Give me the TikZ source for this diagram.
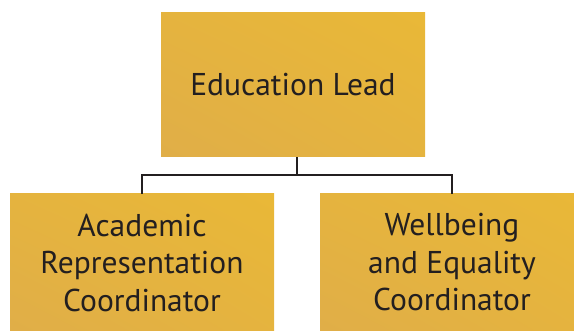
\documentclass[tikz,border=0pt]{standalone}
\usepackage{fontspec}
\setmainfont{PT Sans}
\usetikzlibrary{shadings}
\definecolor{goldA}{HTML}{E9B837}
\definecolor{goldB}{HTML}{E0AE48}
\definecolor{linec}{HTML}{231F20}
\definecolor{txt}{HTML}{231F20}
\tikzset{
  orgbox/.style={rectangle, inner sep=0pt,
    upper right=goldA, lower left=goldB, upper left=goldA!55!goldB, lower right=goldA!55!goldB,
    text=txt, align=center, font=\fontsize{31.5}{37.5}\selectfont},
  link/.style={draw=linec, line width=2.2pt}
}
\begin{document}
\begin{tikzpicture}[x=1pt,y=-1pt]
\clip (0,0) rectangle (574,331);
\node[orgbox, minimum width=264pt, minimum height=144pt] (top) at (293,85) {\raisebox{-2pt}{Education Lead}};
\node[orgbox, minimum width=264pt, minimum height=137pt] (left) at (142,262.5) {Academic\\Representation\\Coordinator};
\node[orgbox, minimum width=264pt, minimum height=137pt] (right) at (452,262.5) {Wellbeing\\and Equality\\Coordinator};
\coordinate (j) at ([xshift=4pt,yshift=-18pt]top.south);
\draw[link] ([xshift=4pt]top.south) -- (j);
\draw[link] (j) -| (left.north);
\draw[link] (j) -| (right.north);
\end{tikzpicture}
\end{document}
